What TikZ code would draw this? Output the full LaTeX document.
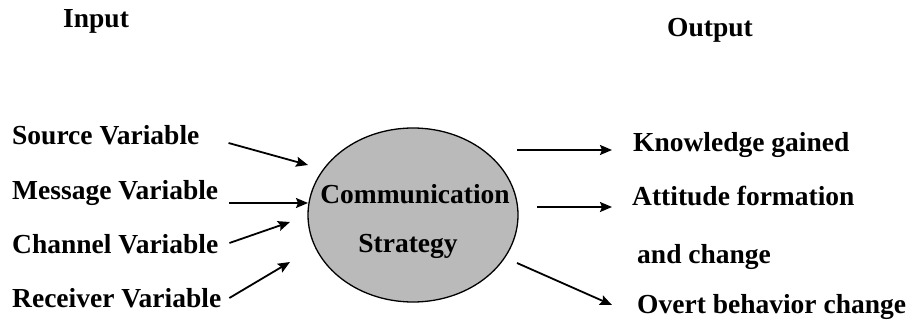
\documentclass[tikz,border=0pt]{standalone}
\usepackage{fontspec}
\setmainfont{Liberation Serif}
\usetikzlibrary{shapes.geometric,arrows.meta}
\begin{document}
\begin{tikzpicture}[x=1pt, y=-1pt,
    lbl/.style={anchor=base west, inner sep=0pt, font=\fontsize{27.5}{31}\selectfont\bfseries},
    arr/.style={line width=1.8pt, -{Stealth[length=12pt,width=10pt,inset=2pt]}}]
    \useasboundingbox (0,0) rectangle (912,323);

    % 标题
    \node[lbl] (inp) at (63,28) {Input};
    \node[lbl] (outp) at (667,37) {Output};

    % 中间椭圆
    \node[ellipse, draw, line width=1.3pt, fill=black!27, minimum width=210pt, minimum height=174pt] (comm) at (413,215) {};
    \node[lbl, anchor=base] (comma) at (415,203) {Communication};
    \node[lbl, anchor=base] (commb) at (408,252) {Strategy};

    % 左侧输入
    \node[lbl] (src) at (12,145) {Source Variable};
    \node[lbl] (msg) at (12,200) {Message Variable};
    \node[lbl] (chn) at (12,253) {Channel Variable};
    \node[lbl] (rcv) at (12,307) {Receiver Variable};

    % 右侧输出
    \node[lbl] (know) at (633,152) {Knowledge gained};
    \node[lbl] (att) at (632,205) {Attitude formation};
    \node[lbl] (attb) at (637,263) {and change};
    \node[lbl] (ovt) at (637,313) {Overt behavior change};

    % 箭头端点
    \coordinate (srctip) at (308,165);
    \coordinate (msgtip) at (308,203);
    \coordinate (chntip) at (290,222);
    \coordinate (rcvtip) at (290,262);
    \coordinate (knowst) at (517,150);
    \coordinate (attst) at (537,207);
    \coordinate (ovtst) at (517,263);

    % 输入箭头
    \draw[arr] ([xshift=29pt,yshift=2pt]src.base east) -- (srctip);
    \draw[arr] ([xshift=11pt,yshift=-3pt]msg.base east) -- (msgtip);
    \draw[arr] ([xshift=11pt,yshift=10pt]chn.base east) -- (chntip);
    \draw[arr] ([xshift=8pt,yshift=9pt]rcv.base east) -- (rcvtip);

    % 输出箭头
    \draw[arr] (knowst) -- ([xshift=-21pt,yshift=2pt]know.base west);
    \draw[arr] (attst) -- ([xshift=-20pt,yshift=-2pt]att.base west);
    \draw[arr] (ovtst) -- ([xshift=-25pt,yshift=8pt]ovt.base west);
\end{tikzpicture}
\end{document}
